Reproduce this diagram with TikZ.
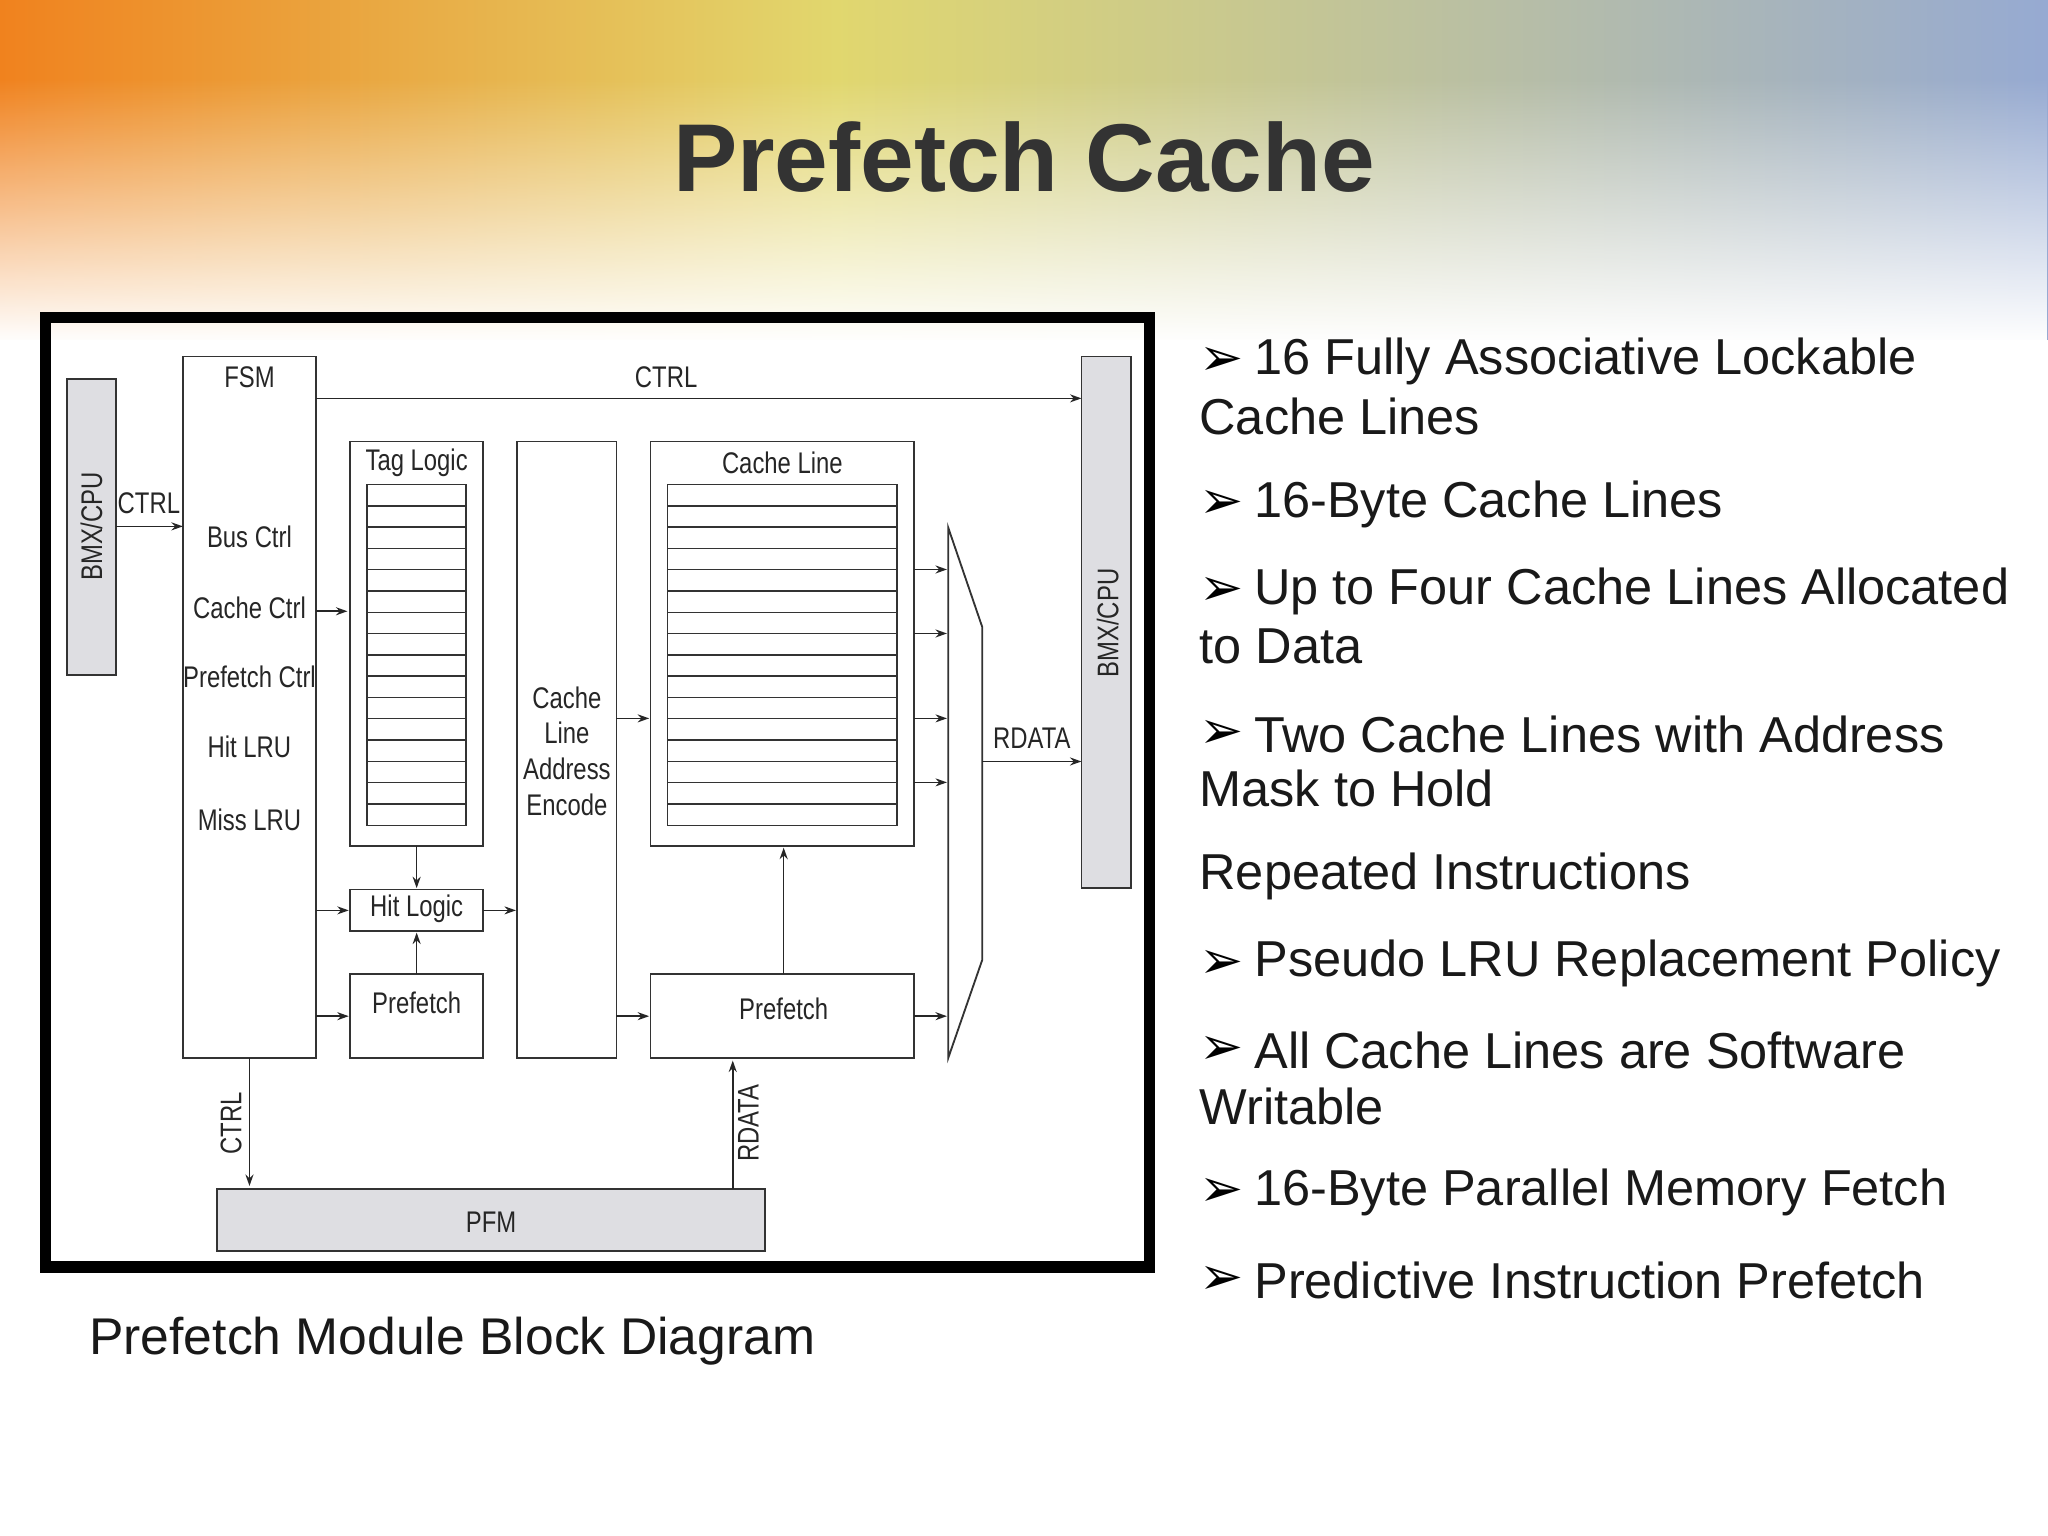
\documentclass[tikz,border=0pt]{standalone}
\usepackage{fontspec}
\setmainfont{Liberation Sans}
\newfontfamily\narrow[FakeStretch=0.8]{Liberation Sans}
\newfontfamily\djsym{DejaVu Sans}
\usetikzlibrary{fadings,arrows.meta}
\definecolor{boxgray}{RGB}{222,222,226}
\definecolor{bgor}{RGB}{240,130,30}
\definecolor{bgye}{RGB}{225,215,110}
\definecolor{bgbl}{RGB}{150,170,210}
\begin{document}
\begin{tikzpicture}[x=0.02cm,y=-0.02cm,
  blk/.style={draw=black!80,line width=0.8pt},
  gblk/.style={draw=black!80,fill=boxgray,line width=0.8pt},
  lbl/.style={font=\narrow\fontsize{13}{15}\selectfont,text=black!85,inner sep=0pt},
  arr/.style={-{Stealth[length=5pt,width=3.5pt]},line width=0.7pt,black!85},
  bul/.style={font=\fontsize{22}{26}\selectfont,anchor=west,inner sep=0pt,text=black!90},
  mk/.style={font=\djsym\bfseries\fontsize{23}{26}\selectfont,anchor=west,inner sep=0pt}]
\useasboundingbox (0,0) rectangle (1568,1176);
\fill[white] (0,0) rectangle (1568,1176);
% background
\shade[left color=bgor, right color=bgye] (0,0) rectangle (640,260);
\shade[left color=bgye, right color=bgbl] (639,0) rectangle (1568,260);
\fill[white,path fading=north] (0,60) rectangle (1568,262);
\fill[white] (0,260) rectangle (1568,1176);
\node[font=\bfseries\fontsize{42}{48}\selectfont,text=black!80] (title) at (784,120) {Prefetch Cache};
% frame
\draw[line width=5pt] (35,243) rectangle (880,970);
% boxes
\draw[gblk] (51,290) rectangle (89,517); \node[lbl,rotate=90] (bmxl) at (70,403) {BMX/CPU};
\coordinate (bmxlr) at (89,403);
\draw[gblk] (828,273) rectangle (866,680); \node[lbl,rotate=90] (bmxr) at (848,477) {BMX/CPU};
\draw[blk] (140,273) rectangle (242,810);
\node[lbl] (fsm) at (191,289) {FSM};
\node[lbl] at (191,411) {Bus Ctrl};
\node[lbl] at (191,465) {Cache Ctrl};
\node[lbl] at (191,518) {Prefetch Ctrl};
\node[lbl] at (191,572) {Hit LRU};
\node[lbl] at (191,628) {Miss LRU};
\coordinate (fsmL) at (140,403);
\draw[arr] (bmxlr) -- (fsmL); \node[lbl] (c1) at (114,385) {CTRL};
\coordinate (fsmT) at (242,305); \coordinate (bmxrT) at (828,305);
\draw[arr] (fsmT) -- (bmxrT); \node[lbl] (c2) at (510,289) {CTRL};
% tag logic
\draw[blk] (268,338) rectangle (370,648); \node[lbl] (tag) at (319,354) {Tag Logic};
\draw[blk] (281,371) rectangle (357,632);
\foreach \i in {1,...,15} \draw[black!80,line width=0.6pt] (281,{371+\i*16.3}) -- (357,{371+\i*16.3});
% encode
\draw[blk] (396,338) rectangle (472,810);
\node[lbl,align=center,font=\narrow\fontsize{13}{15.5}\selectfont] (enc) at (434,575) {Cache\\Line\\Address\\Encode};
% cache line
\draw[blk] (498,338) rectangle (700,648); \node[lbl] (cl) at (599,354) {Cache Line};
\draw[blk] (511,371) rectangle (687,632);
\foreach \i in {1,...,15} \draw[black!80,line width=0.6pt] (511,{371+\i*16.3}) -- (687,{371+\i*16.3});
% hit logic, prefetch
\draw[blk] (268,681) rectangle (370,713); \node[lbl] (hit) at (319,696) {Hit Logic};
\draw[blk] (268,746) rectangle (370,810); \node[lbl] (pf1) at (319,768) {Prefetch};
\draw[blk] (498,746) rectangle (700,810); \node[lbl] (pf2) at (600,772) {Prefetch};
% arrows
\draw[arr] (242,468) coordinate(a1) -- (266,468) coordinate(a2);
\draw[arr] (319,648) coordinate(b1) -- (319,680) coordinate(b2);
\draw[arr] (242,697) coordinate(b3) -- (267,697) coordinate(b4);
\draw[arr] (370,697) coordinate(b5) -- (395,697) coordinate(b6);
\draw[arr] (319,746) coordinate(b7) -- (319,714) coordinate(b8);
\draw[arr] (242,778) coordinate(b9) -- (267,778) coordinate(b10);
\draw[arr] (472,550) coordinate(e1) -- (497,550) coordinate(e2);
\draw[arr] (472,778) coordinate(e3) -- (497,778) coordinate(e4);
\draw[arr] (600,746) coordinate(e5) -- (600,649) coordinate(e6);
% mux
\draw[blk] (726,404) -- (752,480) -- (752,735) -- (726,810) -- cycle;
\foreach \yy in {436,485,550,599,778} \draw[arr] (700,\yy) -- (725,\yy);
\coordinate (muxo) at (752,583); \coordinate (bmxrR) at (828,583);
\draw[arr] (muxo) -- (bmxrR); \node[lbl] (rd1) at (790,565) {RDATA};
% PFM
\draw[gblk] (166,910) rectangle (586,958); \node[lbl] (pfm) at (376,936) {PFM};
\draw[arr] (191,810) coordinate(f1) -- (191,908) coordinate(f2);
\node[lbl,rotate=90] (c3) at (177,860) {CTRL};
\draw[arr] (561,910) coordinate(g1) -- (561,812) coordinate(g2);
\node[lbl,rotate=90] (rd2) at (573,860) {RDATA};
% caption
\node[bul,font=\fontsize{22.5}{26}\selectfont] (cap) at (68,1027) {Prefetch Module Block Diagram};
% bullets
\foreach \yy/\t in {277/16 Fully Associative Lockable,386/16-Byte Cache Lines,453/Up to Four Cache Lines Allocated,562/Two Cache Lines with Address,738/Pseudo LRU Replacement Policy,804/All Cache Lines are Software,913/16-Byte Parallel Memory Fetch,980/Predictive Instruction Prefetch}{
  \node[mk] at (918,\yy) {➢};
  \node[bul] at (960,\yy) {\t};}
\foreach \yy/\t in {319/Cache Lines,495/to Data,604/Mask to Hold,671/Repeated Instructions,847/Writable}
  \node[bul] at (918,\yy) {\t};
\end{tikzpicture}
\end{document}
